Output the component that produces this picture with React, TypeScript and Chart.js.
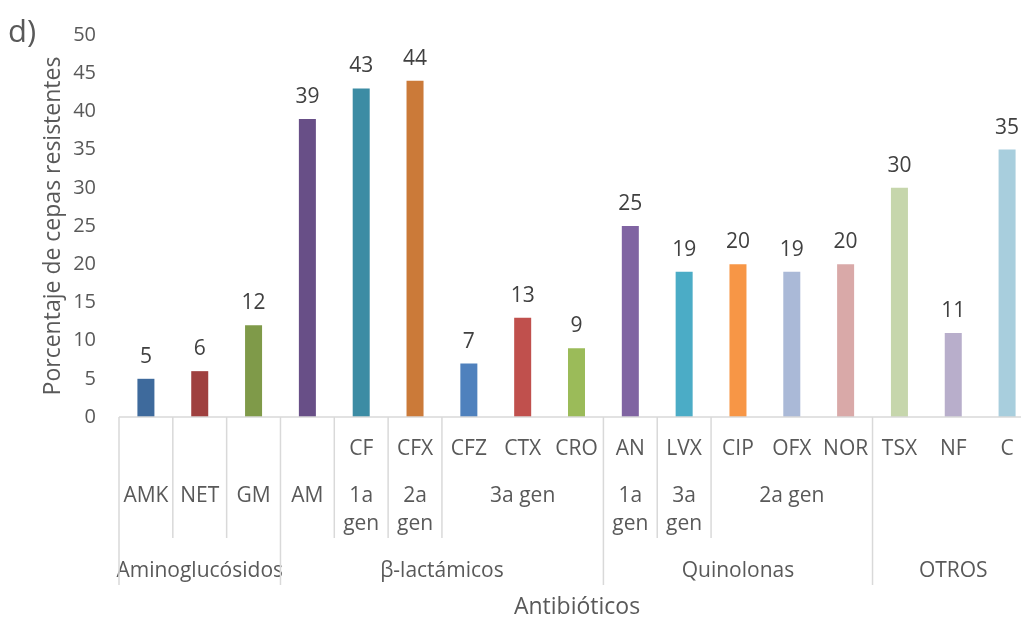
import React, { useEffect, useRef } from "react";
import { Chart, registerables } from "chart.js";

Chart.register(...registerables);

// Antibiotic codes, one bar each
const categories = ["AMK", "NET", "GM", "AM", "CF", "CFX", "CFZ", "CTX", "CRO", "AN", "LVX", "CIP", "OFX", "NOR", "TSX", "NF", "C"];
// Percentage of resistant strains
const values = [5, 6, 12, 39, 43, 44, 7, 13, 9, 25, 19, 20, 19, 20, 30, 11, 35];
const barColors = [
  "#3e6a9c", "#9f403f", "#7f9a49", "#684f87", "#3c8ca4", "#cb7a39",
  "#4f81bd", "#c0504d", "#9bbb59", "#8064a2", "#4bacc6", "#f79646",
  "#aab9d7", "#d9a9a8", "#c6d6ac", "#b8aecb", "#a8cedd",
];

// Category axis: top row (drug codes shown under their generation)
const firstRowLabels = ["", "", "", "", "CF", "CFX", "CFZ", "CTX", "CRO", "AN", "LVX", "CIP", "OFX", "NOR", "TSX", "NF", "C"];
// Second row (generation), with the number of bars each one spans
const secondRowLabels = ["AMK", "NET", "GM", "AM", "1a\ngen", "2a\ngen", "3a gen", "1a\ngen", "3a\ngen", "2a gen", ""];
const secondRowSpans = [1, 1, 1, 1, 1, 1, 3, 1, 1, 3, 3];
// Third row (antibiotic family)
const groupLabels = ["Aminoglucósidos", "β-lactámicos", "Quinolonas", "OTROS"];
const groupSpans = [3, 6, 5, 3];

const panelLabel = "d)";
const xTitle = "Antibióticos";
const yTitle = "Porcentaje de cepas resistentes";

const FONT = "'Open Sans', sans-serif";
const TEXT = "#595959";
const LINE = "#d9d9d9";

const multiLevelAxis = {
  id: "multiLevelAxis",
  afterDraw(chart: any) {
    const { ctx, chartArea } = chart;
    const x = chart.scales.x;
    const bottom = chartArea.bottom;
    const n = categories.length;
    const step = (chartArea.right - chartArea.left) / n;
    const edge = (i: number) => x.getPixelForValue(i) - step / 2;

    ctx.save();
    // axis line
    ctx.strokeStyle = LINE;
    ctx.lineWidth = 1.5;
    ctx.beginPath();
    ctx.moveTo(chartArea.left, bottom);
    ctx.lineTo(chartArea.right, bottom);
    ctx.stroke();

    ctx.fillStyle = TEXT;
    ctx.textAlign = "center";
    ctx.textBaseline = "alphabetic";
    ctx.font = `21px ${FONT}`;

    // first row
    firstRowLabels.forEach((lab, i) => {
      if (lab) ctx.fillText(lab, x.getPixelForValue(i), bottom + 38);
    });

    // family boundaries
    const groupEdges = new Set<number>();
    let gi = 0;
    groupEdges.add(0);
    groupSpans.forEach((s) => {
      gi += s;
      groupEdges.add(gi);
    });

    // second row
    let idx = 0;
    secondRowLabels.forEach((lab, k) => {
      const span = secondRowSpans[k];
      const cx = (edge(idx) + edge(idx + span)) / 2;
      const lines = lab ? lab.split("\n") : [];
      lines.forEach((ln, j) => ctx.fillText(ln, cx, bottom + 85 + j * 28));
      if (!groupEdges.has(idx)) {
        ctx.beginPath();
        ctx.moveTo(edge(idx), bottom);
        ctx.lineTo(edge(idx), bottom + 121);
        ctx.stroke();
      }
      idx += span;
    });

    // third row and family dividers
    idx = 0;
    groupLabels.forEach((lab, k) => {
      const span = groupSpans[k];
      const cx = (edge(idx) + edge(idx + span)) / 2;
      ctx.fillText(lab, cx, bottom + 160);
      idx += span;
    });
    groupEdges.forEach((e) => {
      const px = e === n ? chartArea.right : edge(e);
      ctx.beginPath();
      ctx.moveTo(px, bottom);
      ctx.lineTo(px, bottom + 168);
      ctx.stroke();
    });

    // axis titles
    ctx.font = `23px ${FONT}`;
    ctx.fillText(xTitle, 577, 614);
    ctx.save();
    ctx.translate(60, (chartArea.top + chartArea.bottom) / 2);
    ctx.rotate(-Math.PI / 2);
    ctx.fillText(yTitle, 0, 0);
    ctx.restore();

    // panel letter
    ctx.textAlign = "left";
    ctx.font = `31px ${FONT}`;
    ctx.fillText(panelLabel, 8, 42);
    ctx.restore();
  },
};

const valueLabels = {
  id: "valueLabels",
  afterDatasetsDraw(chart: any) {
    const { ctx } = chart;
    const meta = chart.getDatasetMeta(0);
    ctx.save();
    ctx.fillStyle = "#404040";
    ctx.font = `21px ${FONT}`;
    ctx.textAlign = "center";
    ctx.textBaseline = "alphabetic";
    meta.data.forEach((bar: any, i: number) => {
      ctx.fillText(String(values[i]), bar.x, bar.y - 16);
    });
    ctx.restore();
  },
};

export default function App() {
  const ref = useRef<HTMLCanvasElement>(null);

  useEffect(() => {
    if (!ref.current) return;
    const chart = new Chart(ref.current, {
      type: "bar",
      data: {
        labels: categories,
        datasets: [
          {
            data: values,
            backgroundColor: barColors,
            categoryPercentage: 1,
            barPercentage: 17 / 53.8,
          },
        ],
      },
      options: {
        responsive: false,
        animation: false,
        devicePixelRatio: 1,
        layout: { padding: { top: 33, bottom: 200, right: 6, left: 0 } },
        plugins: { legend: { display: false }, tooltip: { enabled: false } },
        scales: {
          x: { display: false },
          y: {
            min: 0,
            max: 50,
            ticks: { stepSize: 5, padding: 23, color: TEXT, font: { family: FONT, size: 20 } },
            grid: { display: false, drawTicks: false },
            border: { display: false },
            afterFit(scale: any) {
              scale.width = 119;
            },
          },
        },
      },
      plugins: [valueLabels, multiLevelAxis],
    });
    return () => chart.destroy();
  }, []);

  return (
    <div style={{ position: "fixed", left: 0, top: 0, width: 1021, height: 617, overflow: "hidden", background: "#fff" }}>
      <canvas ref={ref} width={1040} height={617} style={{ display: "block" }} />
    </div>
  );
}
